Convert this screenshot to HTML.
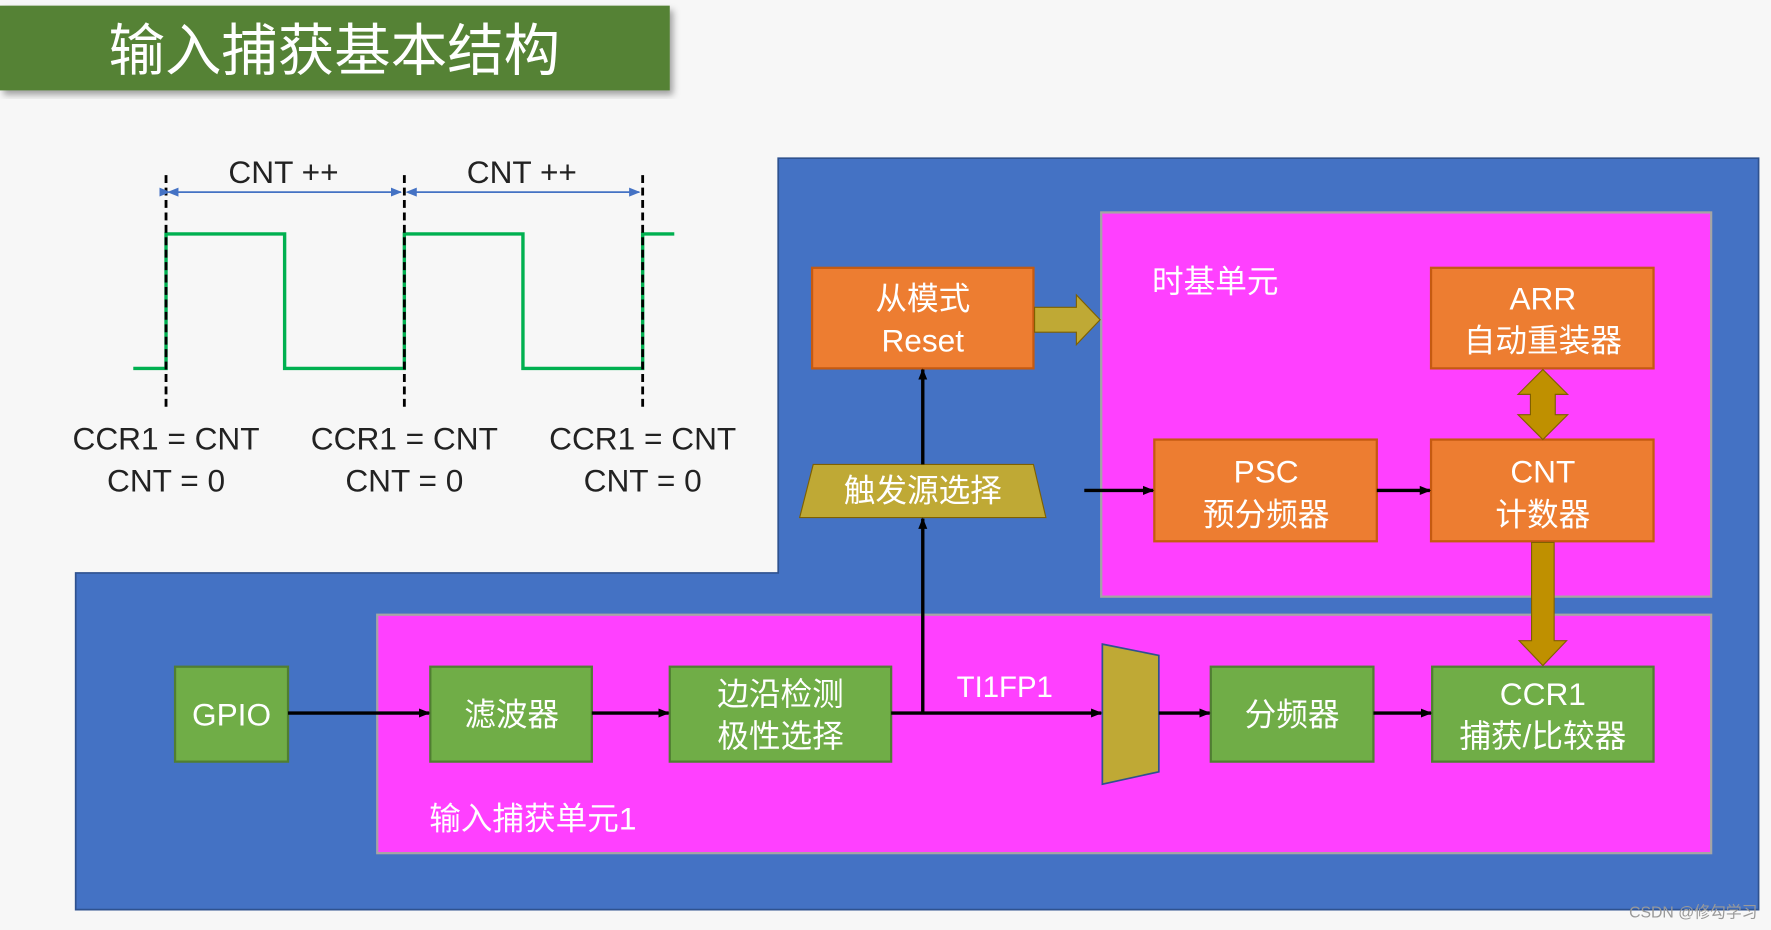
<!DOCTYPE html>
<html><head><meta charset="utf-8"><style>
html,body{margin:0;padding:0;background:#f7f7f7;}
svg{display:block;}
text{font-family:"Liberation Sans","Noto Sans CJK SC",sans-serif;}
</style></head><body>
<svg width="1771" height="930" viewBox="0 0 1568 823" preserveAspectRatio="none" xmlns="http://www.w3.org/2000/svg">
<defs>
<marker id="ah" markerWidth="10" markerHeight="10" refX="9" refY="5" orient="auto" markerUnits="userSpaceOnUse"><path d="M0,1 L10,5 L0,9 Z" fill="#000"/></marker>
<marker id="bh" markerWidth="10" markerHeight="10" refX="9" refY="5" orient="auto" markerUnits="userSpaceOnUse"><path d="M0,1 L10,5 L0,9 Z" fill="#4472c4"/></marker>
<filter id="sh"><feDropShadow dx="3" dy="4" stdDeviation="3" flood-color="#000" flood-opacity="0.35"/></filter>
</defs>
<rect width="1568" height="823" fill="#f7f7f7"/>
<!-- title -->
<rect x="0" y="5" width="593" height="75" fill="#548235" filter="url(#sh)"/>
<text x="296" y="62" font-size="50" fill="#fff" text-anchor="middle">输入捕获基本结构</text>

<!-- blue region -->
<path d="M689,140 H1557 V805 H67 V507 H689 Z" fill="#4472c4" stroke="#2f528f" stroke-width="1.5"/>
<!-- timebase -->
<rect x="975" y="188" width="540" height="340" fill="#ff40ff" stroke="#a5a5a5" stroke-width="2"/>
<text x="1020" y="259" font-size="28" fill="#fff">时基单元</text>
<!-- input capture -->
<rect x="334" y="544" width="1181" height="211" fill="#ff40ff" stroke="#a5a5a5" stroke-width="2"/>
<text x="380" y="734" font-size="28" fill="#fff">输入捕获单元1</text>

<!-- orange boxes -->
<g fill="#ed7d31" stroke="#c55a11" stroke-width="2">
<rect x="719" y="237" width="196" height="89"/>
<rect x="1267" y="237" width="197" height="89"/>
<rect x="1022" y="389" width="197" height="90"/>
<rect x="1267" y="389" width="197" height="90"/>
</g>
<g font-size="28" fill="#fff" text-anchor="middle">
<text x="817" y="274">从模式</text><text x="817" y="311">Reset</text>
<text x="1366" y="274">ARR</text><text x="1366" y="311">自动重装器</text>
<text x="1121" y="427">PSC</text><text x="1121" y="465">预分频器</text>
<text x="1366" y="427">CNT</text><text x="1366" y="465">计数器</text>
</g>

<!-- green boxes -->
<g fill="#70ad47" stroke="#507e32" stroke-width="2">
<rect x="155" y="590" width="100" height="84"/>
<rect x="381" y="590" width="143" height="84"/>
<rect x="593" y="590" width="196" height="84"/>
<rect x="1072" y="590" width="144" height="84"/>
<rect x="1268" y="590" width="196" height="84"/>
</g>
<g font-size="28" fill="#fff" text-anchor="middle">
<text x="205" y="642">GPIO</text>
<text x="453" y="642">滤波器</text>
<text x="691" y="624">边沿检测</text><text x="691" y="661">极性选择</text>
<text x="1144" y="642">分频器</text>
<text x="1366" y="624">CCR1</text><text x="1366" y="661">捕获/比较器</text>
</g>

<!-- trapezoid -->
<path d="M720,411 H915 L926,458 H708 Z" fill="#bfa935" stroke="#7f6000" stroke-width="1"/>
<text x="817" y="444" font-size="28" fill="#fff" text-anchor="middle">触发源选择</text>
<!-- mux -->
<path d="M976,570 L1026,580 L1026,683 L976,694 Z" fill="#bfa935" stroke="#2f528f" stroke-width="1.5"/>

<!-- black arrows -->
<g stroke="#000" stroke-width="3" fill="none" marker-end="url(#ah)">
<line x1="255" y1="631" x2="380" y2="631"/>
<line x1="524" y1="631" x2="592" y2="631"/>
<line x1="789" y1="631" x2="975" y2="631"/>
<line x1="1026" y1="631" x2="1071" y2="631"/>
<line x1="1216" y1="631" x2="1267" y2="631"/>
<line x1="817" y1="631" x2="817" y2="459"/>
<line x1="817" y1="411" x2="817" y2="327"/>
<line x1="960" y1="434" x2="1021" y2="434"/>
<line x1="1219" y1="434" x2="1266" y2="434"/>
</g>
<text x="847" y="617" font-size="26" fill="#fff">TI1FP1</text>

<!-- fat arrows -->
<path d="M916,272 H953 V261 L974,283 L953,305 V294 H916 Z" fill="#bfa935" stroke="#7f6000" stroke-width="1"/>
<path d="M1366,327 L1388,349 H1377 V367 H1388 L1366,389 L1344,367 H1355 V349 H1344 Z" fill="#bf9000" stroke="#7f6000" stroke-width="1"/>
<path d="M1356,480 H1376 V567 H1387 L1366,589 L1345,567 H1356 Z" fill="#bf9000" stroke="#7f6000" stroke-width="1"/>

<!-- waveform -->
<path d="M118,326 H147 V207 H252 V326 H358 V207 H463 V326 H569 V207 H597" fill="none" stroke="#00b050" stroke-width="3"/>
<g stroke="#000" stroke-width="2.5" stroke-dasharray="7,4">
<line x1="147" y1="155" x2="147" y2="362"/>
<line x1="358" y1="155" x2="358" y2="362"/>
<line x1="569" y1="155" x2="569" y2="362"/>
</g>
<g stroke="#4472c4" stroke-width="1.5">
<line x1="150" y1="170" x2="355" y2="170" marker-end="url(#bh)" marker-start="url(#bh)"/>
<line x1="361" y1="170" x2="566" y2="170" marker-end="url(#bh)"/>
</g>
<path d="M148,170 L158,166 L158,174 Z M359,170 L369,166 L369,174 Z" fill="#4472c4"/>
<g font-size="28" fill="#222" text-anchor="middle">
<text x="251" y="162">CNT ++</text><text x="462" y="162">CNT ++</text>
<text x="147" y="398">CCR1 = CNT</text><text x="147" y="435">CNT = 0</text>
<text x="358" y="398">CCR1 = CNT</text><text x="358" y="435">CNT = 0</text>
<text x="569" y="398">CCR1 = CNT</text><text x="569" y="435">CNT = 0</text>
</g>
<text x="1556" y="812" font-size="14" fill="#999" text-anchor="end">CSDN @修勾学习</text>
</svg>
</body></html>
